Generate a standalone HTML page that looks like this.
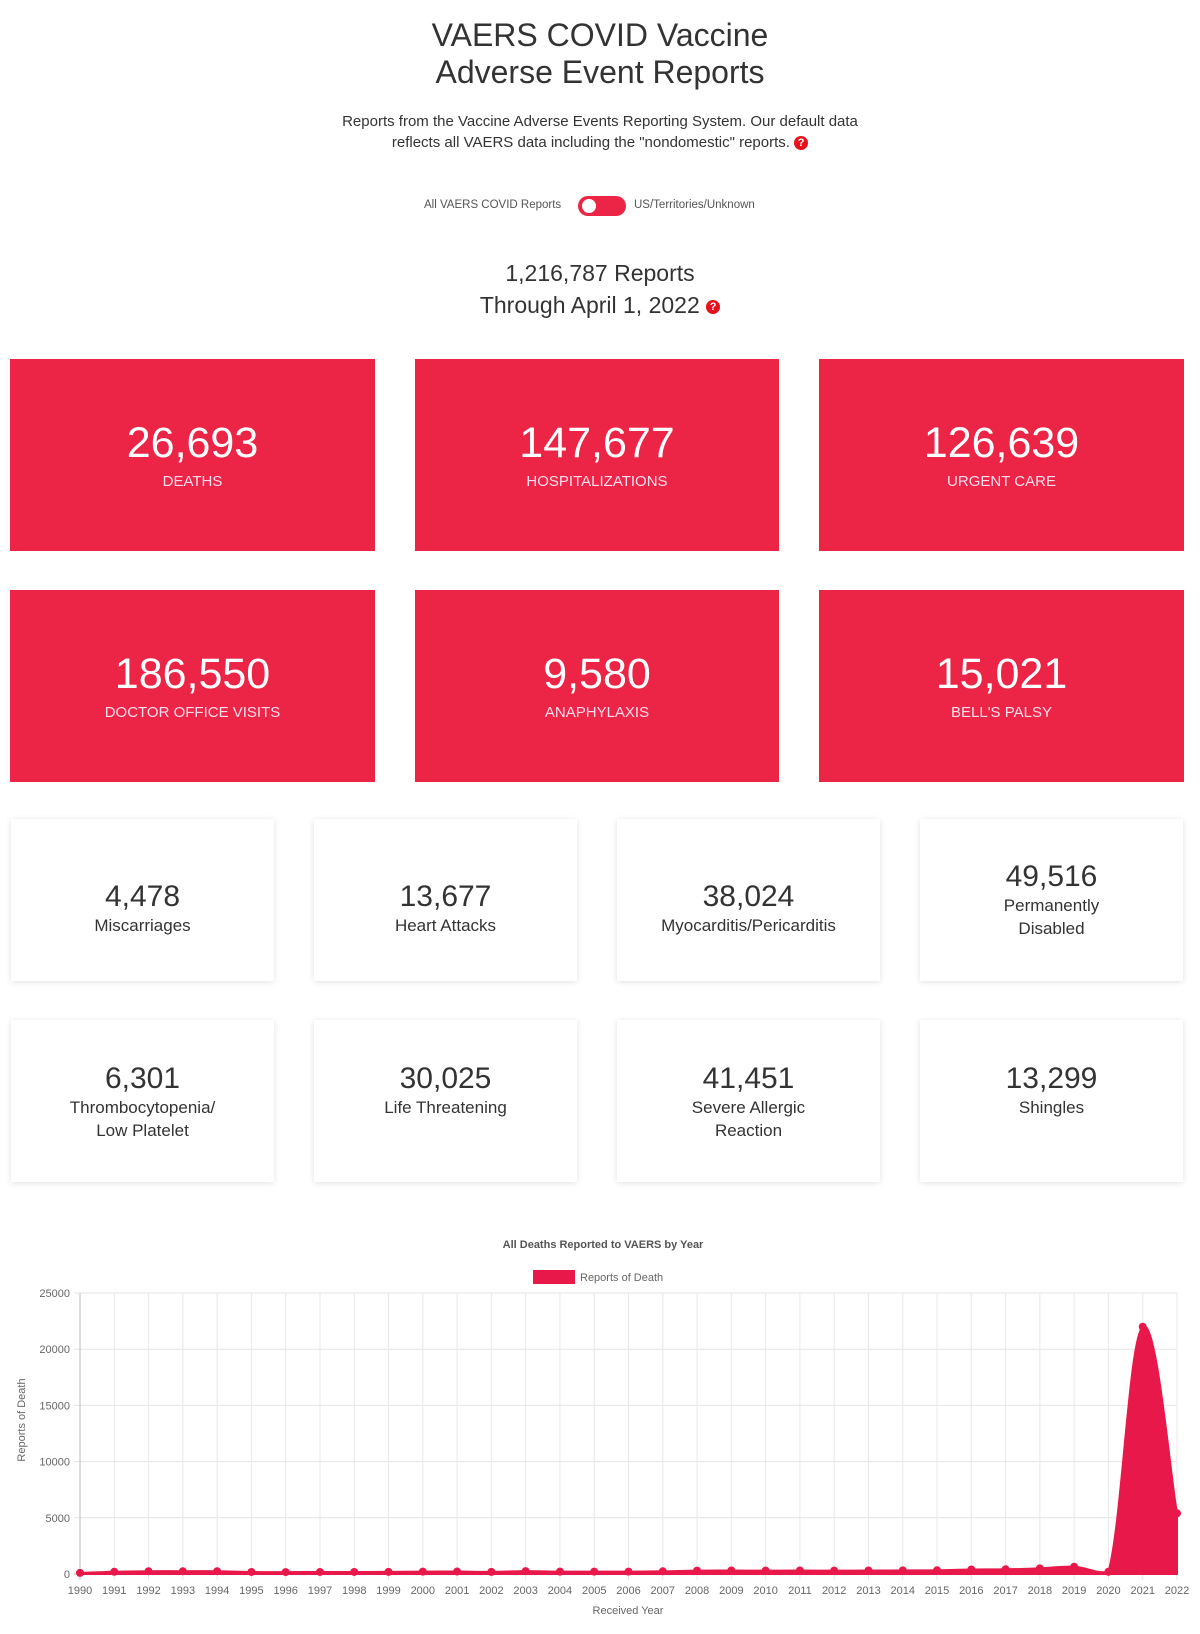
<!DOCTYPE html>
<html><head><meta charset="utf-8"><style>
*{margin:0;padding:0;box-sizing:border-box}
body{width:1200px;height:1634px;background:#fff;font-family:"Liberation Sans",sans-serif;color:#333;position:relative;overflow:hidden}
.a{position:absolute;text-align:center;white-space:nowrap}
.red{position:absolute;background:#ec2446;color:#fff;text-align:center}
.red .n{position:absolute;left:0;right:0;font-size:43px;line-height:42px}
.red .l{position:absolute;left:0;right:0;font-size:15px;line-height:16px;color:#fde}
.w{position:absolute;background:#fff;box-shadow:0 1px 6px rgba(0,0,0,.12);text-align:center;color:#333}
.w .n{position:absolute;left:0;right:0;font-size:30px;line-height:30px}
.w .l{position:absolute;left:0;right:0;font-size:17px;line-height:23px}
.q{display:inline-block;width:14px;height:14px;border-radius:50%;background:#e8101a;color:#fff;font-size:11px;line-height:14px;text-align:center;font-weight:bold;vertical-align:middle}
</style></head><body>
<div class="a" style="left:0;width:1200px;top:17px;font-size:32px;line-height:37px">VAERS COVID Vaccine<br>Adverse Event Reports</div>
<div class="a" style="left:0;width:1200px;top:111px;font-size:15px;line-height:21px">Reports from the Vaccine Adverse Events Reporting System. Our default data<br>reflects all VAERS data including the "nondomestic" reports. <span class="q">?</span></div>
<div class="a" style="left:424px;top:199px;font-size:11.5px;color:#555">All VAERS COVID Reports</div>
<div style="position:absolute;left:578px;top:196px;width:48px;height:20px;border-radius:10px;background:#ec2446"></div>
<div style="position:absolute;left:582px;top:199px;width:14px;height:14px;border-radius:50%;background:#fff"></div>
<div class="a" style="left:634px;top:199px;font-size:11.5px;color:#555">US/Territories/Unknown</div>
<div class="a" style="left:0;width:1200px;top:257px;font-size:23px;line-height:32px">1,216,787 Reports<br>Through April 1, 2022 <span class="q">?</span></div>

<div class="red" style="left:10px;top:359px;width:365px;height:192px"><div class="n" style="top:63px">26,693</div><div class="l" style="top:115px">DEATHS</div></div>
<div class="red" style="left:415px;top:359px;width:364px;height:192px"><div class="n" style="top:63px">147,677</div><div class="l" style="top:115px">HOSPITALIZATIONS</div></div>
<div class="red" style="left:819px;top:359px;width:365px;height:192px"><div class="n" style="top:63px">126,639</div><div class="l" style="top:115px">URGENT CARE</div></div>
<div class="red" style="left:10px;top:590px;width:365px;height:192px"><div class="n" style="top:63px">186,550</div><div class="l" style="top:115px">DOCTOR OFFICE VISITS</div></div>
<div class="red" style="left:415px;top:590px;width:364px;height:192px"><div class="n" style="top:63px">9,580</div><div class="l" style="top:115px">ANAPHYLAXIS</div></div>
<div class="red" style="left:819px;top:590px;width:365px;height:192px"><div class="n" style="top:63px">15,021</div><div class="l" style="top:115px">BELL'S PALSY</div></div>

<div class="w" style="left:11px;top:819px;width:263px;height:162px"><div class="n" style="top:63px">4,478</div><div class="l" style="top:95px">Miscarriages</div></div>
<div class="w" style="left:314px;top:819px;width:263px;height:162px"><div class="n" style="top:63px">13,677</div><div class="l" style="top:95px">Heart Attacks</div></div>
<div class="w" style="left:617px;top:819px;width:263px;height:162px"><div class="n" style="top:63px">38,024</div><div class="l" style="top:95px">Myocarditis/Pericarditis</div></div>
<div class="w" style="left:920px;top:819px;width:263px;height:162px"><div class="n" style="top:43px">49,516</div><div class="l" style="top:75px">Permanently<br>Disabled</div></div>
<div class="w" style="left:11px;top:1020px;width:263px;height:162px"><div class="n" style="top:44px">6,301</div><div class="l" style="top:76px">Thrombocytopenia/<br>Low Platelet</div></div>
<div class="w" style="left:314px;top:1020px;width:263px;height:162px"><div class="n" style="top:44px">30,025</div><div class="l" style="top:76px">Life Threatening</div></div>
<div class="w" style="left:617px;top:1020px;width:263px;height:162px"><div class="n" style="top:44px">41,451</div><div class="l" style="top:76px">Severe Allergic<br>Reaction</div></div>
<div class="w" style="left:920px;top:1020px;width:263px;height:162px"><div class="n" style="top:44px">13,299</div><div class="l" style="top:76px">Shingles</div></div>

<svg id="c" width="1200" height="1634" style="position:absolute;left:0;top:0" font-family="Liberation Sans, sans-serif"></svg>
<script>
var s='',L=80,R=1177,T=1293,B=1574;
function Y(v){return B-v*(B-T)/25000}
var dx=(R-L)/32;
for(var i=0;i<=5;i++){var y=Y(i*5000);s+='<line x1="'+(L-6)+'" x2="'+R+'" y1="'+y+'" y2="'+y+'" stroke="'+(i?'#e4e4e4':'#bbb')+'"/>';s+='<text x="'+(L-10)+'" y="'+(y+4)+'" font-size="11" fill="#666" text-anchor="end">'+(i*5000)+'</text>';}
for(var i=0;i<=32;i++){var x=L+i*dx;s+='<line x1="'+x+'" x2="'+x+'" y1="'+T+'" y2="'+(B+6)+'" stroke="'+(i?'#e8e8e8':'#bbb')+'"/>';s+='<text x="'+x+'" y="'+(B+20)+'" font-size="11" fill="#666" text-anchor="middle">'+(1990+i)+'</text>';}
var v=[100,200,250,250,250,180,170,180,180,190,210,220,190,260,210,210,210,240,300,310,300,310,300,310,320,330,400,420,500,650,200,22000,5400];
var p=v.map(function(a,i){return [L+i*dx,Y(a)]});
var d='M'+p[0][0]+','+p[0][1];
for(var i=0;i<p.length-1;i++){var p0=p[Math.max(i-1,0)],p1=p[i],p2=p[i+1],p3=p[Math.min(i+2,p.length-1)],t=0.2;
var c1x=p1[0]+(p2[0]-p0[0])*t,c1y=p1[1]+(p2[1]-p0[1])*t,c2x=p2[0]-(p3[0]-p1[0])*t,c2y=p2[1]-(p3[1]-p1[1])*t;
c1y=Math.min(c1y,B);c2y=Math.min(c2y,B);d+=' C'+c1x+','+c1y+' '+c2x+','+c2y+' '+p2[0]+','+p2[1];}
s+='<path d="'+d+' L'+R+','+B+' L'+L+','+B+'Z" fill="#e8194a" stroke="#e8194a" stroke-width="2"/>';
p.forEach(function(q){s+='<circle cx="'+q[0]+'" cy="'+q[1]+'" r="4" fill="#e8194a"/>'});
s+='<text x="603" y="1248" font-size="11" font-weight="bold" fill="#555" text-anchor="middle">All Deaths Reported to VAERS by Year</text>';
s+='<rect x="533" y="1270" width="42" height="14" fill="#e8194a"/><text x="580" y="1281" font-size="11" fill="#666">Reports of Death</text>';
s+='<text x="628" y="1614" font-size="11" fill="#666" text-anchor="middle">Received Year</text>';
s+='<text transform="translate(25,1420) rotate(-90)" font-size="11" fill="#666" text-anchor="middle">Reports of Death</text>';
document.getElementById('c').innerHTML=s;
</script>
</body></html>
